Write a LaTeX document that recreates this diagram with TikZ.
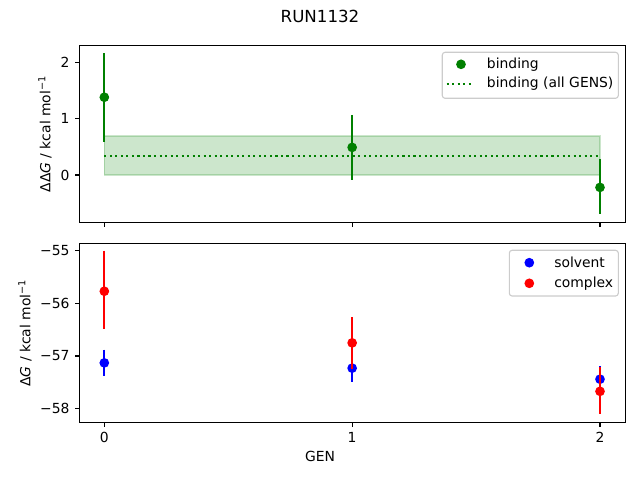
\documentclass[tikz,border=0pt]{standalone}
\usepackage{fontspec}
\setmainfont{DejaVu Sans}
\begin{document}
\begin{tikzpicture}[x=0.72pt,y=-0.72pt,
  frame/.style={line width=0.8pt,black},
  tickmark/.style={line width=0.8pt,black},
  ticklab/.style={inner sep=0pt,font=\fontsize{10}{12}\selectfont},
  ebar/.style={line width=1.5pt},
  dot/.style={circle,inner sep=0pt,minimum size=7pt},
  legbox/.style={draw=black!20,line width=0.8pt,fill=white,fill opacity=0.8,rounded corners=2pt},
  legtxt/.style={anchor=west,inner sep=0pt,font=\fontsize{10}{12}\selectfont}]
\useasboundingbox (0,0) rectangle (640,480);
\definecolor{mgreen}{HTML}{008000}
\definecolor{mblue}{HTML}{0000FF}
\definecolor{mred}{HTML}{FF0000}
% title
\node[font=\fontsize{12}{14}\selectfont] (title) at (320,16) {RUN1132};
% ---------- top axes ----------
\begin{scope}[shift={(75.10pt,-126.0pt)},x=178.45pt,y=40.57pt]
  \fill[mgreen,opacity=0.2] (0,0) rectangle (2,0.69);
  \draw[mgreen,opacity=0.2,line width=1pt] (0,0) rectangle (2,0.69);
  \coordinate (tl) at (0,0.343);
  \coordinate (tr) at (2,0.343);
  \draw[mgreen,line width=1.5pt,dash pattern=on 1.5pt off 2.475pt] (tl) -- (tr);
  \coordinate (b0t) at (0,2.16); \coordinate (b0b) at (0,0.59);
  \coordinate (b1t) at (1,1.065); \coordinate (b1b) at (1,-0.08);
  \coordinate (b2t) at (2,0.28); \coordinate (b2b) at (2,-0.70);
  \draw[ebar,mgreen] (b0t) -- (b0b);
  \draw[ebar,mgreen] (b1t) -- (b1b);
  \draw[ebar,mgreen] (b2t) -- (b2b);
  \node[dot,fill=mgreen] (p0) at (0,1.38) {};
  \node[dot,fill=mgreen] (p1) at (1,0.49) {};
  \node[dot,fill=mgreen] (p2) at (2,-0.22) {};
\end{scope}
\draw[frame] (79.5,45.5) rectangle (625.5,222.5);
% top y ticks
\foreach \v/\py in {2/62.3,1/118.7,0/175.0}{
  \draw[tickmark] (79.5,\py) -- (74.64,\py);
  \node[ticklab,anchor=east] (ty\v) at (69.8,\py) {\v};
}
\foreach \px in {104.3,352.1,600}{
  \draw[tickmark] (\px,222.5) -- (\px,227.4);
}
\node[rotate=90,font=\fontsize{10}{12}\selectfont,inner sep=0pt] (ylab1) at (45,134) {ΔΔ\textit{G} / kcal mol\textsuperscript{−1}};
% top legend
\draw[legbox] (442.3,52.3) rectangle (618.3,98.3);
\node[dot,fill=mgreen] (lm1) at (461,64.3) {};
\node[legtxt] (lt1) at (486.7,64.3) {binding};
\coordinate (ld1) at (446.7,84);
\coordinate (ld2) at (474,84);
\draw[mgreen,line width=1.5pt,dash pattern=on 1.5pt off 2.475pt] (ld1) -- (ld2);
\node[legtxt] (lt2) at (486.7,84) {binding (all GENS)};
% ---------- bottom axes ----------
\begin{scope}[shift={(75.10pt,-180.50pt)},x=178.45pt,y=37.92pt]
  % solvent
  \coordinate (s0t) at (0,-1.88); \coordinate (s0b) at (0,-2.37);
  \coordinate (s1t) at (1,-1.96); \coordinate (s1b) at (1,-2.50);
  \coordinate (s2t) at (2,-2.19); \coordinate (s2b) at (2,-2.69);
  \draw[ebar,mblue] (s0t) -- (s0b);
  \draw[ebar,mblue] (s1t) -- (s1b);
  \draw[ebar,mblue] (s2t) -- (s2b);
  \node[dot,fill=mblue] (s0) at (0,-2.13) {};
  \node[dot,fill=mblue] (s1) at (1,-2.23) {};
  \node[dot,fill=mblue] (s2) at (2,-2.44) {};
  % complex
  \coordinate (c0t) at (0,0.0); \coordinate (c0b) at (0,-1.49);
  \coordinate (c1t) at (1,-1.26); \coordinate (c1b) at (1,-2.24);
  \coordinate (c2t) at (2,-2.21); \coordinate (c2b) at (2,-3.10);
  \draw[ebar,mred] (c0t) -- (c0b);
  \draw[ebar,mred] (c1t) -- (c1b);
  \draw[ebar,mred] (c2t) -- (c2b);
  \node[dot,fill=mred] (c0) at (0,-0.77) {};
  \node[dot,fill=mred] (c1) at (1,-1.75) {};
  \node[dot,fill=mred] (c2) at (2,-2.67) {};
\end{scope}
\draw[frame] (79.5,243.5) rectangle (625.5,422.5);
\foreach \v/\py in {55/250.7,56/303.4,57/356.0,58/408.7}{
  \draw[tickmark] (79.5,\py) -- (74.64,\py);
  \node[ticklab,anchor=east] (by\v) at (69.8,\py) {−\v};
}
\foreach \g/\px in {0/104.3,1/352.1,2/600}{
  \draw[tickmark] (\px,422.5) -- (\px,427.4);
  \node[ticklab,anchor=north] (bx\g) at (\px,432.0) {\g};
}
\node[rotate=90,font=\fontsize{10}{12}\selectfont,inner sep=0pt] (ylab2) at (25,333) {Δ\textit{G} / kcal mol\textsuperscript{−1}};
\node[font=\fontsize{10}{12}\selectfont] (xlab) at (320,456.7) {GEN};
% bottom legend
\draw[legbox] (509.3,250.3) rectangle (618.3,296);
\node[dot,fill=mblue] (lm2) at (529.3,262.7) {};
\node[legtxt] (lt3) at (554,262.7) {solvent};
\node[dot,fill=mred] (lm3) at (529.3,283.3) {};
\node[legtxt] (lt4) at (554,283.3) {complex};
\end{tikzpicture}
\end{document}
